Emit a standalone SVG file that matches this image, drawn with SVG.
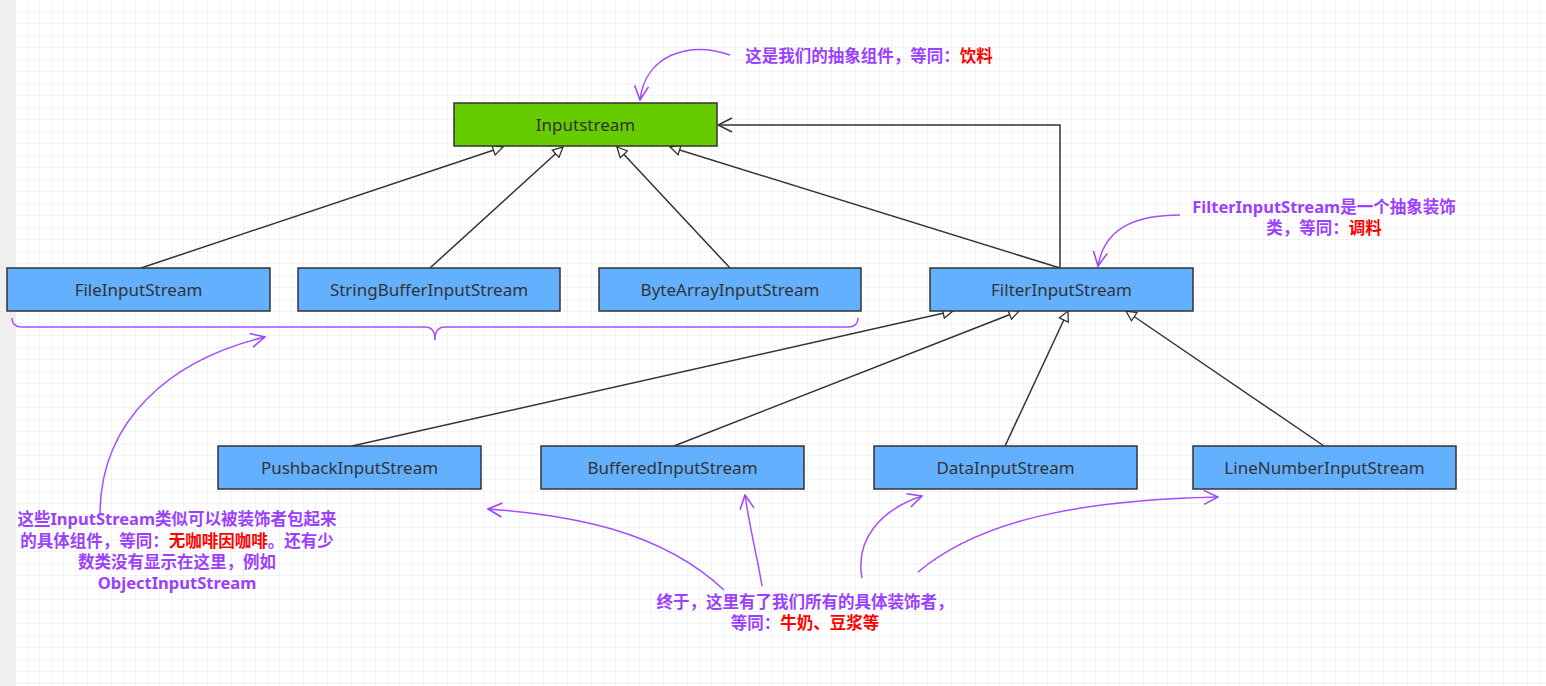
<svg xmlns="http://www.w3.org/2000/svg" width="1546" height="686" viewBox="0 0 1546 686">
<defs>
<pattern id="g" x="16" y="0" width="12" height="12" patternUnits="userSpaceOnUse"><path d="M12 0V12H0" fill="none" stroke="#e6e6e6" stroke-width="1"/></pattern>
<marker id="tri" viewBox="0 0 12 12" refX="11" refY="6" markerWidth="12" markerHeight="12" orient="auto" markerUnits="userSpaceOnUse"><path d="M1 1L11 6L1 11Z" fill="#fff" stroke="#333" stroke-width="1.3"/></marker>
<marker id="open" viewBox="0 0 16 16" refX="15" refY="8" markerWidth="16" markerHeight="16" orient="auto" markerUnits="userSpaceOnUse"><path d="M1 1L15 8L1 15" fill="none" stroke="#333" stroke-width="1.5"/></marker>
<marker id="pa" viewBox="0 0 16 16" refX="15" refY="8" markerWidth="16" markerHeight="16" orient="auto" markerUnits="userSpaceOnUse"><path d="M1 1L15 8L1 15" fill="none" stroke="#9b40ff" stroke-width="1.5"/></marker>
</defs>
<style>
.n rect{fill:#63b0ff;stroke:#333;stroke-width:1.5}
.n text{font-family:"Noto Sans","Open Sans",sans-serif;font-size:17px;fill:#333;text-anchor:middle}
.c path{fill:none;stroke:#333;stroke-width:1.5;marker-end:url(#tri)}
.a path{fill:none;stroke:#a64dff;stroke-width:1.5}
.t{font-family:"Noto Sans","Noto Sans CJK SC",sans-serif;font-size:16.5px;font-weight:bold;fill:#9b40ff;text-anchor:middle}
.r{fill:#ff0000}
</style>
<rect width="1546" height="686" fill="#fff"/>
<rect x="16" width="1530" height="686" fill="url(#g)"/>
<rect width="16" height="686" fill="#efefef"/>
<g class="c" id="connectors">
<path d="M141 268L503 147"/>
<path d="M430 268L563 147"/>
<path d="M730 268L617 147"/>
<path d="M1060 268L670 147"/>
<path d="M1060 268V125H718" style="marker-end:url(#open)"/>
<path d="M352 446L953 311"/>
<path d="M674 446L1019 311"/>
<path d="M1005 446L1068 311"/>
<path d="M1324 446L1126 311"/>
</g>
<g class="n" id="n-input"><rect x="454" y="103" width="263" height="43" style="fill:#66cc00"/><text x="585.5" y="131">Inputstream</text></g>
<g class="n" id="n-file"><rect x="7" y="268" width="263" height="43"/><text x="138.5" y="296">FileInputStream</text></g>
<g class="n" id="n-sb"><rect x="298" y="268" width="262" height="43"/><text x="429" y="296">StringBufferInputStream</text></g>
<g class="n" id="n-ba"><rect x="599" y="268" width="262" height="43"/><text x="730" y="296">ByteArrayInputStream</text></g>
<g class="n" id="n-filter"><rect x="930" y="268" width="263" height="43"/><text x="1061.5" y="296">FilterInputStream</text></g>
<g class="n" id="n-push"><rect x="218" y="446" width="263" height="43"/><text x="349.5" y="474">PushbackInputStream</text></g>
<g class="n" id="n-buf"><rect x="541" y="446" width="263" height="43"/><text x="672.5" y="474">BufferedInputStream</text></g>
<g class="n" id="n-data"><rect x="874" y="446" width="263" height="43"/><text x="1005.5" y="474">DataInputStream</text></g>
<g class="n" id="n-line"><rect x="1193" y="446" width="263" height="43"/><text x="1324.5" y="474">LineNumberInputStream</text></g>
<g class="a" id="annotations">
<path d="M730 55C690 40 645 55 640 100" marker-end="url(#pa)"/>
<path d="M1180 215C1140 215 1105 225 1098 266" marker-end="url(#pa)"/>
<path d="M12 318Q12 327 22 327H425Q435 327 435 340Q435 327 445 327H848Q858 327 858 318"/>
<path d="M100 515C100 420 170 360 265 337" marker-end="url(#pa)"/>
<path d="M724 590C660 530 570 515 488 509" marker-end="url(#pa)"/>
<path d="M762 586C758 560 750 530 745 495" marker-end="url(#pa)"/>
<path d="M862 578C855 540 880 510 922 496" marker-end="url(#pa)"/>
<path d="M918 572C980 520 1080 500 1218 497" marker-end="url(#pa)"/>
</g>
<g id="labels">
<text class="t" x="869" y="62">这是我们的抽象组件，等同：<tspan class="r">饮料</tspan></text>
<text class="t" x="1324" y="213">FilterInputStream是一个抽象装饰</text>
<text class="t" x="1324" y="234">类，等同：<tspan class="r">调料</tspan></text>
<text class="t" x="177" y="525">这些InputStream类似可以被装饰者包起来</text>
<text class="t" x="177" y="547">的具体组件，等同：<tspan class="r">无咖啡因咖啡</tspan>。还有少</text>
<text class="t" x="177" y="568">数类没有显示在这里，例如</text>
<text class="t" x="177" y="589">ObjectInputStream</text>
<text class="t" x="805" y="608">终于，这里有了我们所有的具体装饰者，</text>
<text class="t" x="805" y="629">等同：<tspan class="r">牛奶、豆浆等</tspan></text>
</g>
</svg>
